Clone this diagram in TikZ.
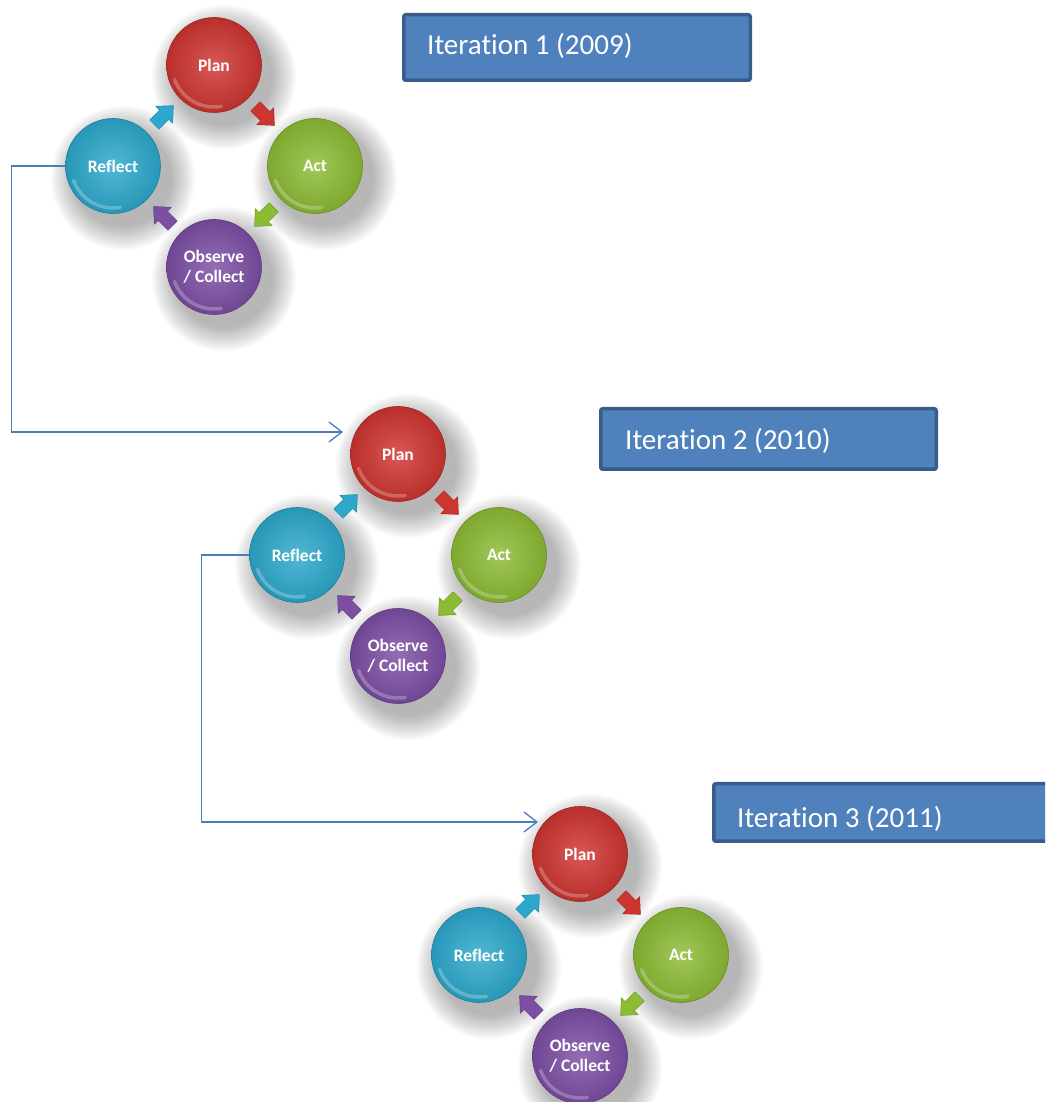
\documentclass[tikz,border=0pt]{standalone}
\usepackage{fontspec}
\setmainfont{Carlito}[Ligatures=CommonOff]
\usetikzlibrary{arrows.meta,calc}

\definecolor{planC}{RGB}{206,52,48}
\definecolor{actC}{RGB}{140,187,52}
\definecolor{obsC}{RGB}{124,78,164}
\definecolor{refC}{RGB}{44,168,204}
\definecolor{boxFill}{RGB}{79,129,189}
\definecolor{boxEdge}{RGB}{56,93,138}
\definecolor{linkC}{RGB}{74,126,187}

\tikzset{
  btn/.style={circle, minimum size=95pt, inner sep=0pt, draw=#1!75!black, line width=0.6pt,
    inner color=#1!82!white, outer color=#1!90!black, text=white,
    font=\fontsize{17.5}{20}\selectfont\bfseries, align=center,
    path picture={\draw[white, opacity=0.25, line width=3.5pt, line cap=round]
      ($(path picture bounding box.center)+(200:42pt)$) arc[start angle=200, end angle=280, radius=42pt];}},
  itbox/.style={draw=boxEdge, fill=boxFill, line width=3.5pt, rounded corners=2pt, inner sep=0pt},
  ittext/.style={text=white, font=\fontsize{29}{34}\selectfont, inner sep=0pt, anchor=base west},
  link/.style={draw=linkC, line width=1.3pt, -{Straight Barb[length=13pt,width=20pt,line width=1.3pt]}},
  flow/.style={fill=#1, draw=#1!80!black, line width=0.5pt, line join=round},
}

% block arrow between two buttons: position, direction, colour
\newcommand\flowarrow[3]{%
  \filldraw[flow=#3, shift={#1}, rotate=#2]
    (-13,-6.5) -- (1,-6.5) -- (1,-12) -- (14,0) -- (1,12) -- (1,6.5) -- (-13,6.5) -- cycle;}

\begin{document}
\begin{tikzpicture}[x=1pt,y=1pt]
\path[use as bounding box] (0,0) rectangle (1045,1102);
\clip (0,0) rectangle (1045,1102);

\foreach \i/\cx/\cy in {1/214/936, 2/398/547, 3/580/147} {
  % soft shadows under the four buttons
  \foreach \dx/\dy in {0/101, 101/0, 0/-101, -101/0} {
    \foreach \k in {0,...,13}
      \fill[black, opacity=0.022] (\cx+\dx+10, \cy+\dy-12) circle[radius=72-1.8*\k];
  }
  \node[btn=planC] (p\i) at (\cx,\cy+101) {Plan};
  \node[btn=actC]  (a\i) at (\cx+101,\cy) {Act};
  \node[btn=obsC]  (o\i) at (\cx,\cy-101) {Observe\\/ Collect};
  \node[btn=refC]  (r\i) at (\cx-101,\cy) {Reflect};
  \flowarrow{($(p\i)!.5!(a\i)$)}{-45}{planC}
  \flowarrow{($(a\i)!.5!(o\i)$)}{-135}{actC}
  \flowarrow{($(o\i)!.5!(r\i)$)}{135}{obsC}
  \flowarrow{($(r\i)!.5!(p\i)$)}{45}{refC}
}

% iteration labels
\node[itbox, minimum width=346.5pt, minimum height=65.5pt] (b1) at (577,1054.5) {};
\node[ittext] (t1) at (427,1047) {Iteration 1 (2009)};
\node[itbox, minimum width=335.5pt, minimum height=60.5pt] (b2) at (768.5,663) {};
\node[ittext] (t2) at (625,652) {Iteration 2 (2010)};
\node[itbox, minimum width=354.5pt, minimum height=57.5pt] (b3) at (891,289.5) {};
\node[ittext] (t3) at (737,274) {Iteration 3 (2011)};

% links from one iteration to the next
\coordinate (in2) at (343,670);
\coordinate (in3) at (538,280);
\draw[link] (r1.west) -- ++(-54,0) |- (in2);
\draw[link] (r2.west) -- ++(-48,0) |- (in3);
\end{tikzpicture}
\end{document}
